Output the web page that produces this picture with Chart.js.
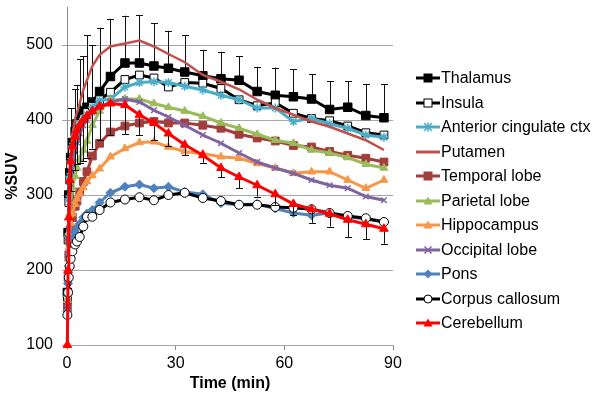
<!DOCTYPE html>
<html>
<head>
<meta charset="utf-8">
<script src="https://cdn.jsdelivr.net/npm/chart.js@4/dist/chart.umd.min.js"></script>
<style>
  html, body { margin: 0; padding: 0; background: #fff; }
  #wrap { position: relative; width: 600px; height: 403px; }
  #legend { position: absolute; left: 416px; top: 66px; font: 16px "Liberation Sans", Arial, sans-serif; color: #000; }
  .row { display: flex; align-items: center; height: 24.5px; white-space: nowrap; }
  .row svg { flex: none; margin-right: 1px; }
</style>
</head>
<body>
<div id="wrap">
  <canvas id="suv-chart" width="600" height="403"></canvas>
  <div id="legend"></div>
</div>
<script>
/* ---- data (%SUV vs time, min) ---- */
const times = [0.1, 0.3, 0.5, 0.75, 1, 1.5, 2.25, 2.75, 3.5, 4.5, 5.5, 7, 9,
               12, 16, 20, 24, 28,
               32.5, 37.5, 42.5, 47.5, 52.5, 57.5, 62.5, 67.5, 72.5, 77.5, 82.5, 87.5];

const thalamus    = [170, 250, 300, 330, 350, 370, 385, 395, 405, 412, 417, 424, 438, 458, 476, 476, 472, 469, 464, 459, 455, 453, 438, 433, 431, 428, 414, 417, 406, 403];
const insula      = [160, 240, 290, 320, 340, 360, 375, 385, 395, 402, 410, 418, 427, 437, 454, 460, 456, 444, 450, 449, 442, 427, 419, 423, 409, 402, 399, 392, 383, 380];
const antCingCtx  = [165, 245, 295, 325, 345, 365, 380, 388, 395, 402, 407, 417, 426, 428, 444, 450, 451, 450, 445, 440, 433, 427, 416, 416, 398, 402, 395, 389, 380, 377];
const putamen     = [150, 230, 290, 330, 355, 380, 402, 410, 422, 440, 453, 472, 487, 498, 502, 506, 498, 488, 477, 460, 451, 441, 427, 416, 407, 398, 391, 382, 373, 360];
const temporal    = [150, 190, 220, 240, 255, 270, 285, 292, 304, 318, 331, 352, 369, 384, 392, 396, 398, 396, 396, 393, 389, 381, 376, 372, 366, 364, 358, 353, 349, 344];
const parietal    = [160, 215, 250, 275, 290, 310, 325, 336, 348, 360, 372, 393, 412, 426, 428, 428, 422, 417, 412, 405, 396, 389, 381, 373, 369, 360, 356, 350, 341, 336];
const hippocampus = [160, 200, 230, 250, 262, 275, 288, 295, 302, 310, 318, 326, 335, 351, 362, 370, 371, 364, 358, 355, 351, 349, 342, 336, 329, 331, 331, 320, 309, 320];
const occipital   = [155, 210, 255, 290, 315, 340, 360, 370, 382, 393, 400, 410, 417, 424, 428, 424, 413, 404, 393, 380, 369, 356, 344, 336, 329, 320, 313, 309, 298, 293];
const pons        = [145, 182, 205, 222, 232, 242, 250, 256, 262, 270, 275, 280, 290, 303, 311, 314, 309, 311, 304, 301, 289, 287, 288, 282, 276, 273, 276, 271, 268, 264];
const corpusCall  = [140, 170, 190, 205, 215, 225, 234, 238, 244, 258, 271, 271, 280, 290, 294, 297, 293, 300, 303, 296, 292, 287, 287, 284, 283, 281, 276, 272, 269, 264];
const cerebellum  = [100, 200, 270, 320, 345, 365, 378, 386, 393, 400, 405, 412, 418, 422, 420, 407, 396, 382, 367, 353, 336, 324, 313, 301, 288, 281, 275, 267, 261, 255];

// SD bars: thalamus drawn upward, cerebellum downward
const thalamusSD   = [null, null, null, null, 66, null, 56, 52, 76, 73, 96, 76, 85, 77, 63, 64, 57, 50, 49, 34, 36, 32, 33, 37, 37, 33, 38, 35, 42, 45];
const cerebellumSD = [null, null, null, null, 40, null, 45, 45, 50, 55, 55, 50, 45, 42, 39, 27, 23, 17, 14, 10, 12, 15, 15, 14, 15, 18, 17, 23, 20, 20];

const xTicks = [0, 30, 60, 90];
const yTicks = [100, 200, 300, 400, 500];

const FONT = '"Liberation Sans", Arial, sans-serif';

// name, values, line colour, marker, marker fill, radius, sd, sd direction
const series = [
  ['Thalamus',               thalamus,    '#000000', 'rect',     '#000000', 6,   thalamusSD,   1],
  ['Insula',                 insula,      '#000000', 'rect',     '#ffffff', 5.5, null, 0],
  ['Anterior cingulate ctx', antCingCtx,  '#4BACC6', 'star',     '#4BACC6', 4.5, null, 0],
  ['Putamen',                putamen,     '#C0504D', false,      '#C0504D', 0,   null, 0],
  ['Temporal lobe',          temporal,    '#A23E3B', 'rect',     '#A23E3B', 5.5, null, 0],
  ['Parietal lobe',          parietal,    '#9BBB59', 'triangle', '#9BBB59', 4.5, null, 0],
  ['Hippocampus',            hippocampus, '#F79646', 'triangle', '#F79646', 4.5, null, 0],
  ['Occipital lobe',         occipital,   '#8064A2', 'crossRot', '#8064A2', 4,   null, 0],
  ['Pons',                   pons,        '#4F81BD', 'rectRot',  '#4F81BD', 4.5, null, 0],
  ['Corpus callosum',        corpusCall,  '#000000', 'circle',   '#ffffff', 4.5, null, 0],
  ['Cerebellum',             cerebellum,  '#FF0000', 'triangle', '#FF0000', 5,   cerebellumSD, -1],
];

const n = series.length;
const datasets = series.map(([name, vals, col, marker, fill, r, sd, dir], i) => ({
  label: name,
  data: times.map((t, k) => ({ x: t, y: vals[k] })),
  borderColor: col,
  borderWidth: name === 'Putamen' ? 2.5 : 3,
  pointStyle: marker || 'circle',
  pointRadius: marker ? r : 0,
  pointBackgroundColor: fill,
  pointBorderColor: col,
  pointBorderWidth: marker === 'star' || marker === 'crossRot' ? 1.5 : 1,
  tension: 0,
  clip: false,
  order: n - 1 - i,          // later series end up on top
  sd: sd,
  sdDir: dir,
}));

// vertical SD bars drawn with the y scale
const errorBars = {
  id: 'errorBars',
  beforeDatasetDraw(chart, args) {
    const ds = chart.data.datasets[args.index];
    if (!ds.sd) return;
    const ctx = chart.ctx, ys = chart.scales.y;
    ctx.save();
    ctx.strokeStyle = '#111';
    ctx.lineWidth = 1;
    args.meta.data.forEach((pt, k) => {
      const s = ds.sd[k];
      if (s == null) return;
      const end = ys.getPixelForValue(ds.data[k].y + ds.sdDir * s);
      const x = Math.round(pt.x) + 0.5;
      ctx.beginPath();
      ctx.moveTo(x, pt.y);
      ctx.lineTo(x, end);
      ctx.moveTo(x - 3.5, Math.round(end) + 0.5);
      ctx.lineTo(x + 3.5, Math.round(end) + 0.5);
      ctx.stroke();
    });
    ctx.restore();
  },
};

Chart.defaults.font.family = FONT;
Chart.defaults.color = '#000';

new Chart(document.getElementById('suv-chart').getContext('2d'), {
  type: 'line',
  data: { datasets },
  plugins: [errorBars],
  options: {
    responsive: false,
    animation: false,
    layout: { padding: { left: 0, right: 207, top: 7.5, bottom: 0 } },
    plugins: { legend: { display: false }, tooltip: { enabled: false } },
    scales: {
      x: {
        type: 'linear', min: 0, max: 90,
        afterBuildTicks: s => { s.ticks = xTicks.map(v => ({ value: v })); },
        afterFit: s => { s.height = 58; s.paddingLeft = 0; s.paddingRight = 0; },
        grid: { drawOnChartArea: false, drawTicks: true, tickLength: 5, color: '#8c8c8c' },
        border: { color: '#a6a6a6', width: 1 },
        ticks: { font: { size: 16 }, padding: 4, maxRotation: 0 },
        title: { display: true, text: 'Time (min)', font: { size: 16, weight: 'bold' }, padding: { top: 0, bottom: 10 } },
      },
      y: {
        min: 100, max: 550,
        afterBuildTicks: s => { s.ticks = yTicks.map(v => ({ value: v })); },
        afterFit: s => { s.width = 67; s.paddingTop = 0; s.paddingBottom = 0; },
        grid: { color: '#a6a6a6', lineWidth: 1, drawTicks: true, tickLength: 5 },
        border: { color: '#8c8c8c', width: 1 },
        ticks: { font: { size: 16 }, padding: 9 },
        title: { display: true, text: '%SUV', font: { size: 16, weight: 'bold' }, padding: { top: 3, bottom: 0 } },
      },
    },
  },
});

/* ---- legend: line + marker symbol, then name ---- */
function symbol(col, marker, fill) {
  const cx = 12, cy = 7;
  let m = '';
  if (marker === 'rect') m = `<rect x="${cx - 4}" y="${cy - 4}" width="8" height="8" fill="${fill}" stroke="${col}" stroke-width="1"/>`;
  else if (marker === 'triangle') m = `<polygon points="${cx},${cy - 4.5} ${cx + 4.5},${cy + 3.5} ${cx - 4.5},${cy + 3.5}" fill="${fill}"/>`;
  else if (marker === 'rectRot') m = `<polygon points="${cx},${cy - 4.5} ${cx + 4.5},${cy} ${cx},${cy + 4.5} ${cx - 4.5},${cy}" fill="${fill}"/>`;
  else if (marker === 'circle') m = `<circle cx="${cx}" cy="${cy}" r="4" fill="${fill}" stroke="${col}" stroke-width="1"/>`;
  else if (marker === 'crossRot') m = `<path d="M${cx - 3.5} ${cy - 3.5}L${cx + 3.5} ${cy + 3.5}M${cx - 3.5} ${cy + 3.5}L${cx + 3.5} ${cy - 3.5}" stroke="${col}" stroke-width="1.5"/>`;
  else if (marker === 'star') m = `<path d="M${cx - 4} ${cy - 4}L${cx + 4} ${cy + 4}M${cx - 4} ${cy + 4}L${cx + 4} ${cy - 4}M${cx} ${cy - 4.5}L${cx} ${cy + 4.5}M${cx - 4.5} ${cy}L${cx + 4.5} ${cy}" stroke="${col}" stroke-width="1.5"/>`;
  return `<svg width="24" height="14" viewBox="0 0 24 14"><line x1="0" y1="${cy}" x2="24" y2="${cy}" stroke="${col}" stroke-width="3"/>${m}</svg>`;
}

document.getElementById('legend').innerHTML = series
  .map(([name, , col, marker, fill]) => `<div class="row">${symbol(col, marker, fill)}<span>${name}</span></div>`)
  .join('');
</script>
</body>
</html>
